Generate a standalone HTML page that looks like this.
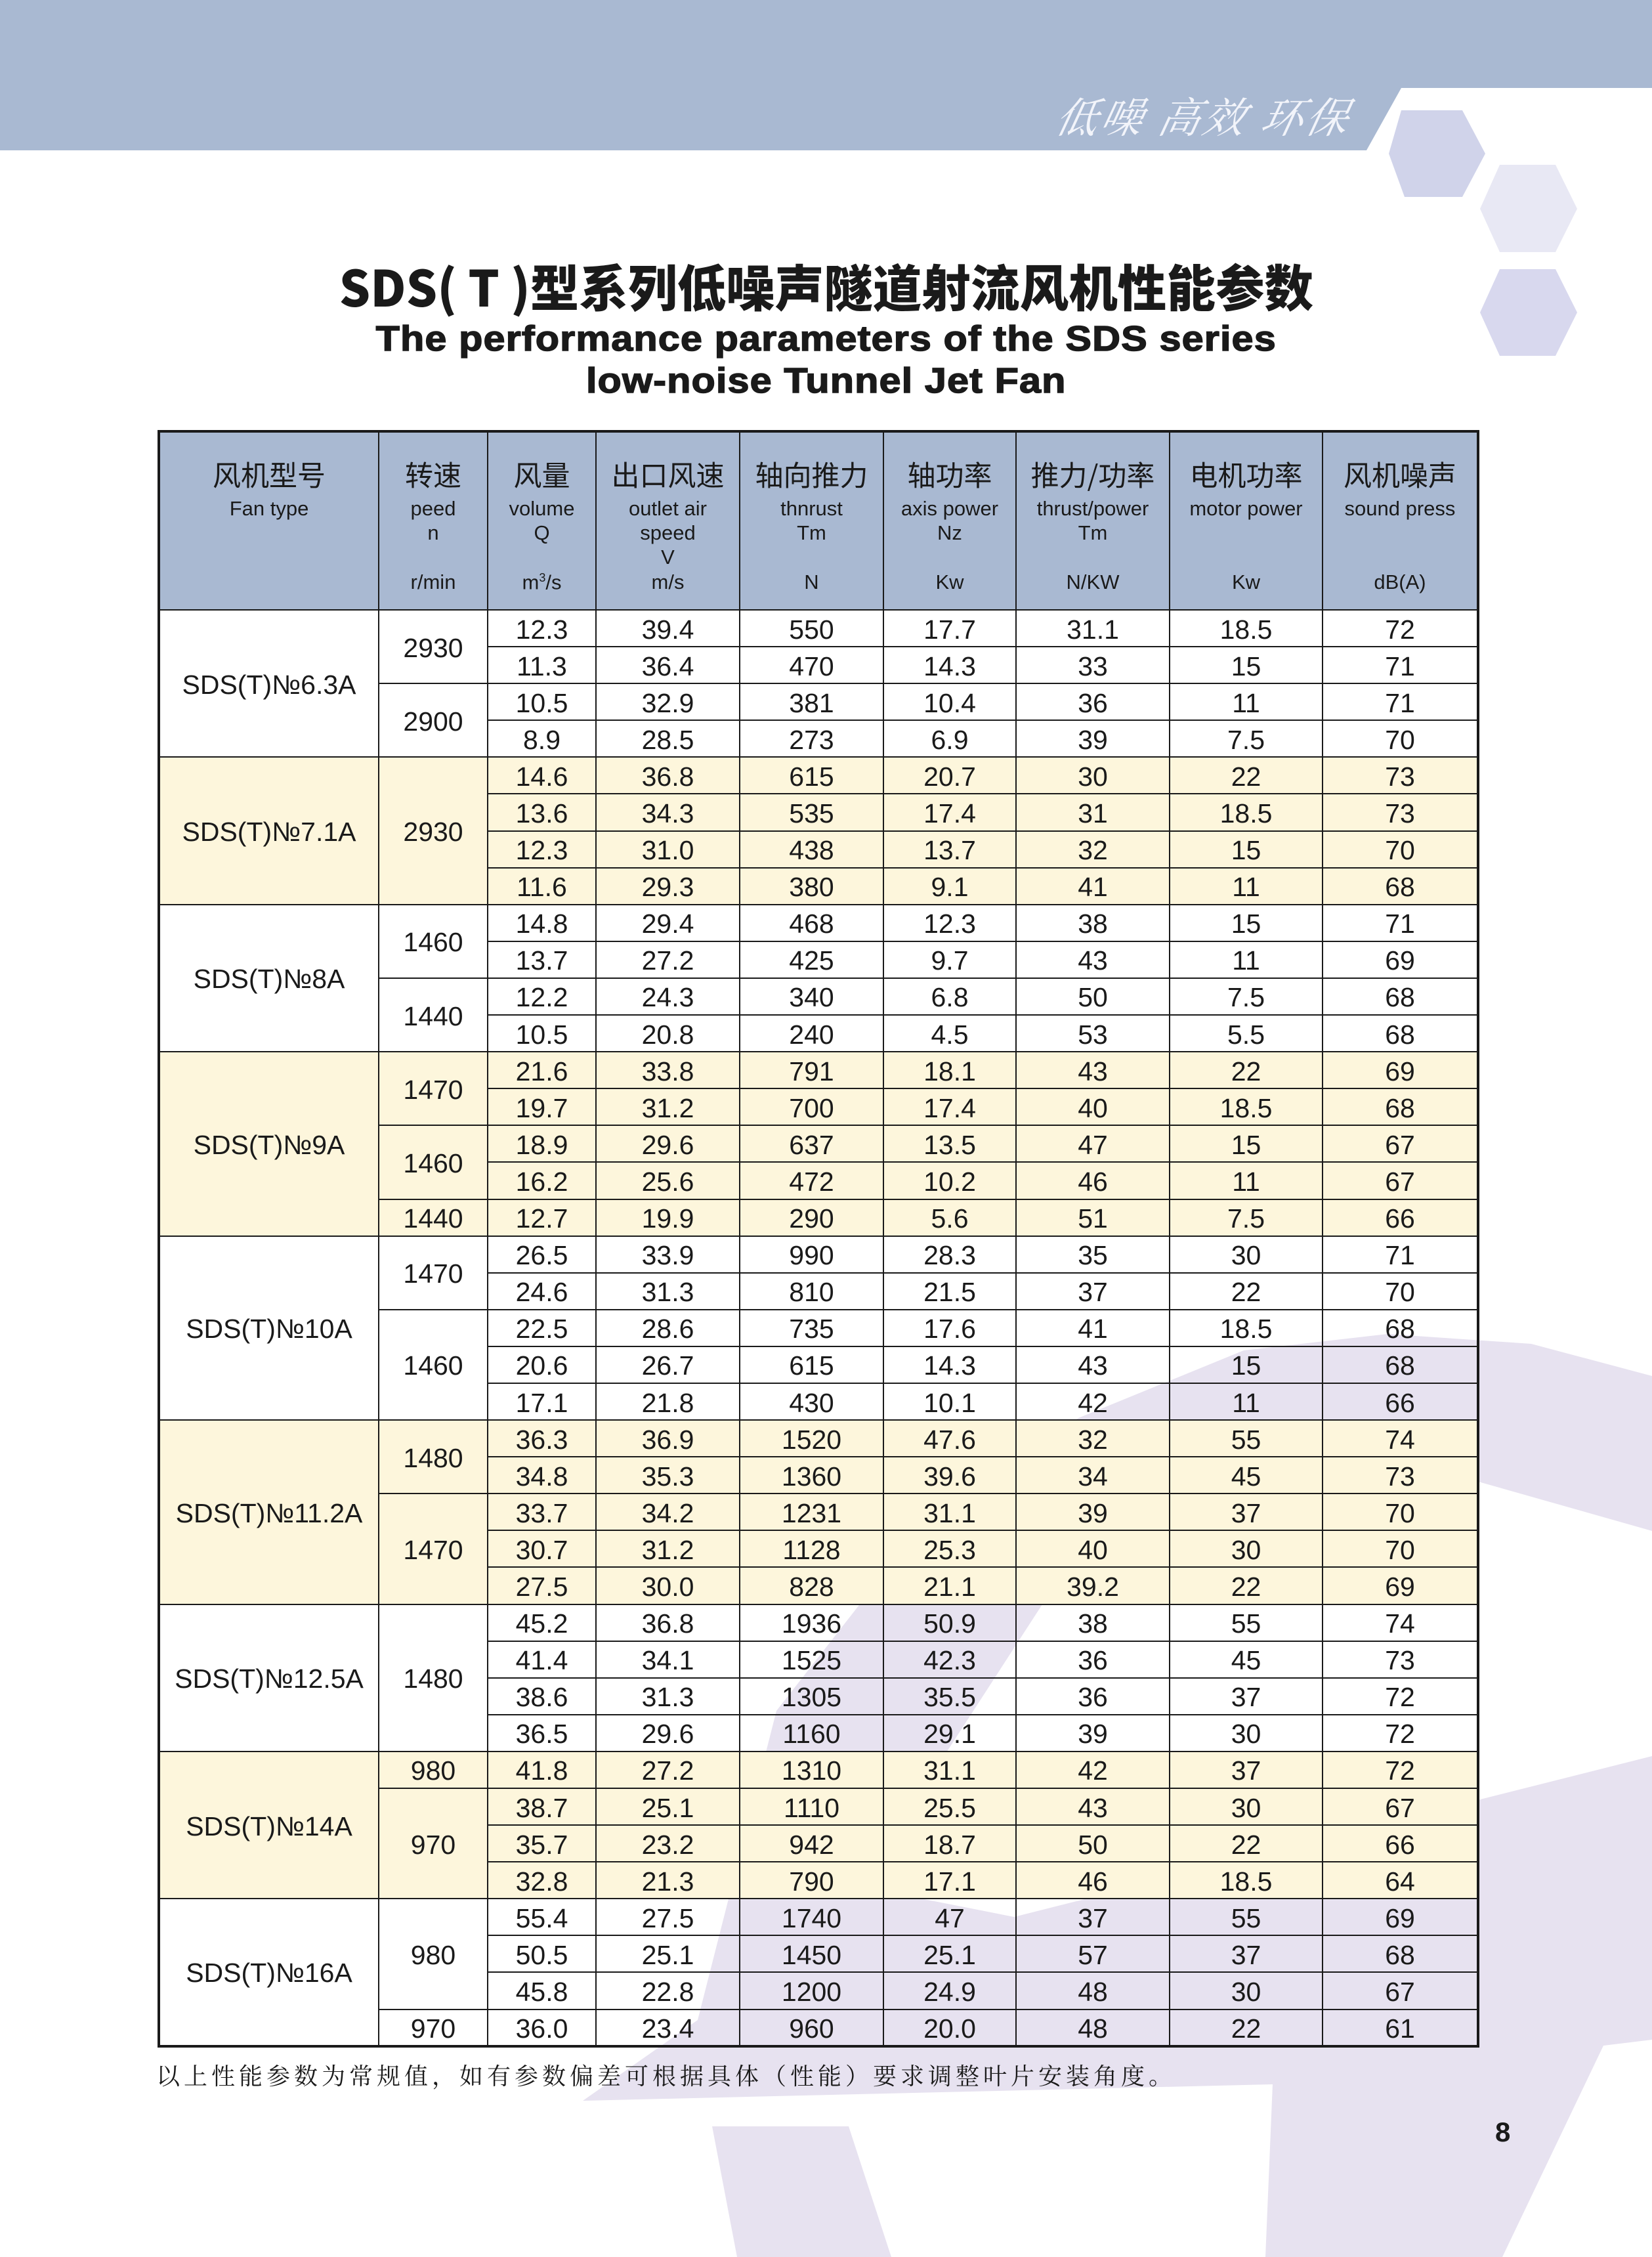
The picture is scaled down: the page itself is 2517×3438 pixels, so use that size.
<!DOCTYPE html>
<html><head><meta charset="utf-8">
<style>
*{margin:0;padding:0;box-sizing:border-box}
body{width:2517px;height:3438px;position:relative;background:#fff;overflow:hidden;font-family:"Liberation Sans","Noto Sans CJK SC",sans-serif;color:#1a1a1a}
.abs{position:absolute}
table{position:absolute;left:240px;top:655px;width:2010px;border-collapse:collapse;table-layout:fixed;border:4px solid #1a1a1a}
td{border:2px solid #1a1a1a;text-align:center;vertical-align:middle;font-size:41px;height:56.1px;line-height:1;padding-top:4px}
tr.y td{background:#fdf6dc}
td.h{background:#a9b9d2;height:272px;position:relative;padding:0}
.h div{position:absolute;left:0;right:0;text-align:center;white-space:nowrap}
.cn{top:42px;font-size:43px;font-family:"Noto Sans CJK SC",sans-serif}
.en{font-size:31px}
.l1{top:100px}.l2{top:137px}.l3{top:174px}.u{top:212px;font-size:31px}
</style></head><body>
<svg class="abs" style="left:0;top:0" width="2517" height="3438">
<polygon points="0,0 2517,0 2517,134 2135,134 2082,229 0,229" fill="#a9b9d2"/>
<polygon points="2135,168 2228,168 2263,234 2228,300 2140,300 2116,234" fill="#d0d3ea"/>
<polygon points="2285,251 2370,251 2403,318 2370,384 2285,384 2255,318" fill="#e8e8f4"/>
<polygon points="2285,410 2370,410 2403,476 2370,542 2285,542 2255,476" fill="#d8d8ee"/>
<g fill="#e7e2f0">
<polygon points="1063,3077 1183,2606 1413,2312 1643,2160 1895,2057 2114,2032 2333,2047 2517,2096 2517,2332 2256,2258 2005,2283 1786,2361 1588,2444 1413,2714 1348,2881 1545,2920 2517,2675 2517,3107 2443,3116 2289,3438 1928,3438 1939,3175 888,3200"/>
<polygon points="1085,3239 1293,3239 1358,3438 1123,3438"/>
</g>
<text x="1830" y="202" text-anchor="middle" font-family="Noto Serif CJK SC, serif" font-style="italic" font-size="64" fill="#f2f4fa" letter-spacing="4" transform="skewX(-12) translate(42,0)">低噪 高效 环保</text>
</svg>
<div class="abs" style="left:0;width:2517px;top:395px;text-align:center;font-family:'Noto Sans CJK SC',sans-serif;font-weight:900;font-size:66px;line-height:80px"><span style="display:inline-block;transform:scale(1.13,1.15)">SDS( T )型系列低噪声隧道射流风机性能参数</span></div>
<div class="abs" style="left:0;width:2517px;top:484px;text-align:center;font-weight:bold;font-size:54px;line-height:64px;letter-spacing:1px"><span style="display:inline-block;transform:scaleX(1.1);-webkit-text-stroke:1.5px #1a1a1a">The performance parameters of the SDS series<br>low-noise Tunnel Jet Fan</span></div>
<table>
<colgroup><col style="width:335px"><col style="width:166px"><col style="width:165px"><col style="width:219px"><col style="width:219px"><col style="width:202px"><col style="width:234px"><col style="width:233px"><col style="width:237px"></colgroup>
<tr>
<td class="h"><div class="cn">风机型号</div><div class="en l1">Fan type</div></td>
<td class="h"><div class="cn">转速</div><div class="en l1">peed</div><div class="en l2">n</div><div class="u">r/min</div></td>
<td class="h"><div class="cn">风量</div><div class="en l1">volume</div><div class="en l2">Q</div><div class="u">m<sup style="font-size:18px">3</sup>/s</div></td>
<td class="h"><div class="cn">出口风速</div><div class="en l1">outlet air</div><div class="en l2">speed</div><div class="en l3">V</div><div class="u">m/s</div></td>
<td class="h"><div class="cn">轴向推力</div><div class="en l1">thnrust</div><div class="en l2">Tm</div><div class="u">N</div></td>
<td class="h"><div class="cn">轴功率</div><div class="en l1">axis power</div><div class="en l2">Nz</div><div class="u">Kw</div></td>
<td class="h"><div class="cn">推力/功率</div><div class="en l1">thrust/power</div><div class="en l2">Tm</div><div class="u">N/KW</div></td>
<td class="h"><div class="cn">电机功率</div><div class="en l1">motor power</div><div class="u">Kw</div></td>
<td class="h"><div class="cn">风机噪声</div><div class="en l1">sound press</div><div class="u">dB(A)</div></td>
</tr>
<tr><td rowspan="4">SDS(T)№6.3A</td><td rowspan="2">2930</td><td>12.3</td><td>39.4</td><td>550</td><td>17.7</td><td>31.1</td><td>18.5</td><td>72</td></tr>
<tr><td>11.3</td><td>36.4</td><td>470</td><td>14.3</td><td>33</td><td>15</td><td>71</td></tr>
<tr><td rowspan="2">2900</td><td>10.5</td><td>32.9</td><td>381</td><td>10.4</td><td>36</td><td>11</td><td>71</td></tr>
<tr><td>8.9</td><td>28.5</td><td>273</td><td>6.9</td><td>39</td><td>7.5</td><td>70</td></tr>
<tr class="y"><td rowspan="4">SDS(T)№7.1A</td><td rowspan="4">2930</td><td>14.6</td><td>36.8</td><td>615</td><td>20.7</td><td>30</td><td>22</td><td>73</td></tr>
<tr class="y"><td>13.6</td><td>34.3</td><td>535</td><td>17.4</td><td>31</td><td>18.5</td><td>73</td></tr>
<tr class="y"><td>12.3</td><td>31.0</td><td>438</td><td>13.7</td><td>32</td><td>15</td><td>70</td></tr>
<tr class="y"><td>11.6</td><td>29.3</td><td>380</td><td>9.1</td><td>41</td><td>11</td><td>68</td></tr>
<tr><td rowspan="4">SDS(T)№8A</td><td rowspan="2">1460</td><td>14.8</td><td>29.4</td><td>468</td><td>12.3</td><td>38</td><td>15</td><td>71</td></tr>
<tr><td>13.7</td><td>27.2</td><td>425</td><td>9.7</td><td>43</td><td>11</td><td>69</td></tr>
<tr><td rowspan="2">1440</td><td>12.2</td><td>24.3</td><td>340</td><td>6.8</td><td>50</td><td>7.5</td><td>68</td></tr>
<tr><td>10.5</td><td>20.8</td><td>240</td><td>4.5</td><td>53</td><td>5.5</td><td>68</td></tr>
<tr class="y"><td rowspan="5">SDS(T)№9A</td><td rowspan="2">1470</td><td>21.6</td><td>33.8</td><td>791</td><td>18.1</td><td>43</td><td>22</td><td>69</td></tr>
<tr class="y"><td>19.7</td><td>31.2</td><td>700</td><td>17.4</td><td>40</td><td>18.5</td><td>68</td></tr>
<tr class="y"><td rowspan="2">1460</td><td>18.9</td><td>29.6</td><td>637</td><td>13.5</td><td>47</td><td>15</td><td>67</td></tr>
<tr class="y"><td>16.2</td><td>25.6</td><td>472</td><td>10.2</td><td>46</td><td>11</td><td>67</td></tr>
<tr class="y"><td>1440</td><td>12.7</td><td>19.9</td><td>290</td><td>5.6</td><td>51</td><td>7.5</td><td>66</td></tr>
<tr><td rowspan="5">SDS(T)№10A</td><td rowspan="2">1470</td><td>26.5</td><td>33.9</td><td>990</td><td>28.3</td><td>35</td><td>30</td><td>71</td></tr>
<tr><td>24.6</td><td>31.3</td><td>810</td><td>21.5</td><td>37</td><td>22</td><td>70</td></tr>
<tr><td rowspan="3">1460</td><td>22.5</td><td>28.6</td><td>735</td><td>17.6</td><td>41</td><td>18.5</td><td>68</td></tr>
<tr><td>20.6</td><td>26.7</td><td>615</td><td>14.3</td><td>43</td><td>15</td><td>68</td></tr>
<tr><td>17.1</td><td>21.8</td><td>430</td><td>10.1</td><td>42</td><td>11</td><td>66</td></tr>
<tr class="y"><td rowspan="5">SDS(T)№11.2A</td><td rowspan="2">1480</td><td>36.3</td><td>36.9</td><td>1520</td><td>47.6</td><td>32</td><td>55</td><td>74</td></tr>
<tr class="y"><td>34.8</td><td>35.3</td><td>1360</td><td>39.6</td><td>34</td><td>45</td><td>73</td></tr>
<tr class="y"><td rowspan="3">1470</td><td>33.7</td><td>34.2</td><td>1231</td><td>31.1</td><td>39</td><td>37</td><td>70</td></tr>
<tr class="y"><td>30.7</td><td>31.2</td><td>1128</td><td>25.3</td><td>40</td><td>30</td><td>70</td></tr>
<tr class="y"><td>27.5</td><td>30.0</td><td>828</td><td>21.1</td><td>39.2</td><td>22</td><td>69</td></tr>
<tr><td rowspan="4">SDS(T)№12.5A</td><td rowspan="4">1480</td><td>45.2</td><td>36.8</td><td>1936</td><td>50.9</td><td>38</td><td>55</td><td>74</td></tr>
<tr><td>41.4</td><td>34.1</td><td>1525</td><td>42.3</td><td>36</td><td>45</td><td>73</td></tr>
<tr><td>38.6</td><td>31.3</td><td>1305</td><td>35.5</td><td>36</td><td>37</td><td>72</td></tr>
<tr><td>36.5</td><td>29.6</td><td>1160</td><td>29.1</td><td>39</td><td>30</td><td>72</td></tr>
<tr class="y"><td rowspan="4">SDS(T)№14A</td><td>980</td><td>41.8</td><td>27.2</td><td>1310</td><td>31.1</td><td>42</td><td>37</td><td>72</td></tr>
<tr class="y"><td rowspan="3">970</td><td>38.7</td><td>25.1</td><td>1110</td><td>25.5</td><td>43</td><td>30</td><td>67</td></tr>
<tr class="y"><td>35.7</td><td>23.2</td><td>942</td><td>18.7</td><td>50</td><td>22</td><td>66</td></tr>
<tr class="y"><td>32.8</td><td>21.3</td><td>790</td><td>17.1</td><td>46</td><td>18.5</td><td>64</td></tr>
<tr><td rowspan="4">SDS(T)№16A</td><td rowspan="3">980</td><td>55.4</td><td>27.5</td><td>1740</td><td>47</td><td>37</td><td>55</td><td>69</td></tr>
<tr><td>50.5</td><td>25.1</td><td>1450</td><td>25.1</td><td>57</td><td>37</td><td>68</td></tr>
<tr><td>45.8</td><td>22.8</td><td>1200</td><td>24.9</td><td>48</td><td>30</td><td>67</td></tr>
<tr><td>970</td><td>36.0</td><td>23.4</td><td>960</td><td>20.0</td><td>48</td><td>22</td><td>61</td></tr>
</table>
<div class="abs" style="left:238px;top:3135px;font-family:'Noto Serif CJK SC',serif;font-size:36px;white-space:nowrap;letter-spacing:6px">以上性能参数为常规值，如有参数偏差可根据具体（性能）要求调整叶片安装角度。</div>
<div class="abs" style="left:2278px;top:3224px;font-weight:bold;font-size:42px">8</div>
</body></html>
